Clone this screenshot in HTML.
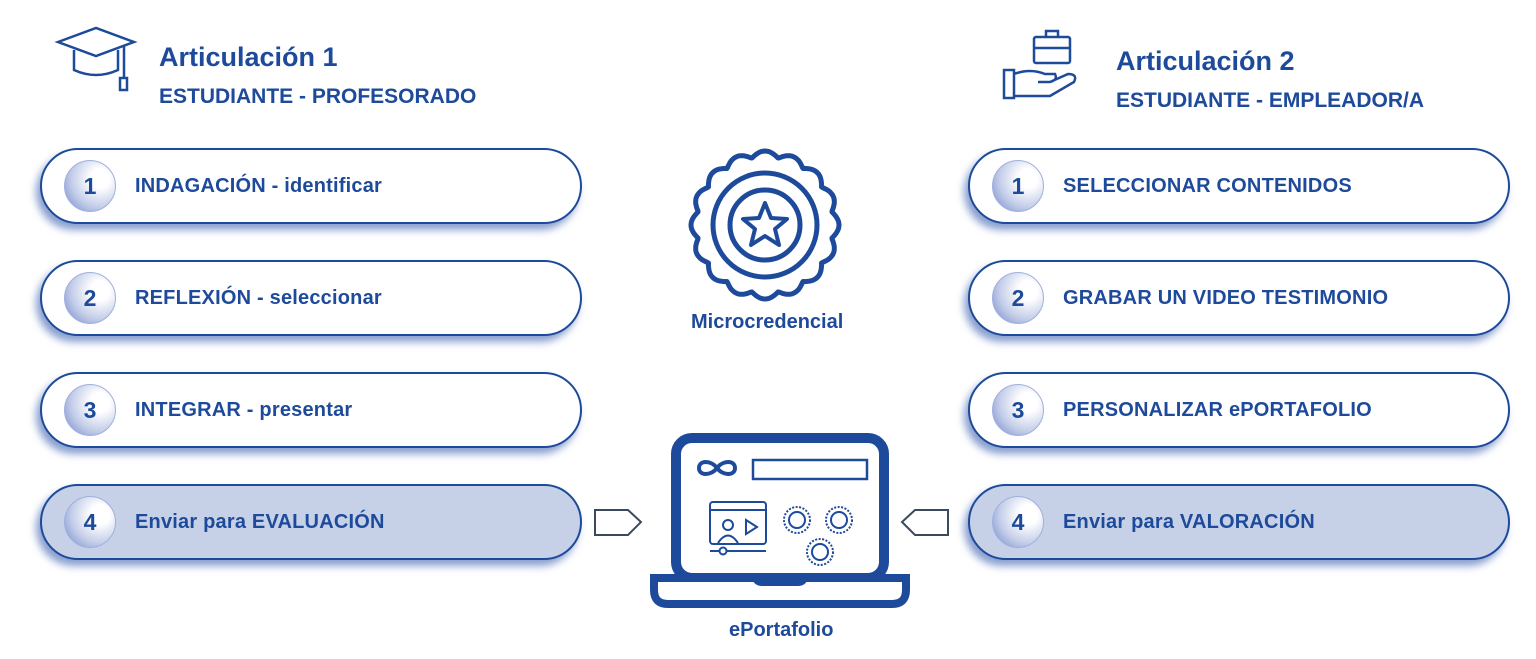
<!DOCTYPE html>
<html><head><meta charset="utf-8"><style>
body{margin:0;width:1536px;height:659px;background:#fff;position:relative;overflow:hidden;font-family:"Liberation Sans",sans-serif;color:#1d4a9a;font-weight:bold}
.pill{position:absolute;width:538px;height:72px;border:2px solid #1d4a9a;border-radius:38px;background:#fff;box-shadow:-4px 6px 8px rgba(40,80,170,.55)}
.pill.f{background:#c6d1e7}
.num{position:absolute;left:22px;top:10px;width:50px;height:50px;border-radius:50%;background:radial-gradient(circle at 70% 35%,#fff 20%,#c3cde9 60%,#6f86c9 100%);border:1px solid #9fb0dd;text-align:center;line-height:50px;font-size:23px;color:#1d4a9a}
.lab{position:absolute;left:93px;top:25px;font-size:20px;letter-spacing:0.2px}
.t{position:absolute;white-space:nowrap}
</style></head><body>
<svg style="position:absolute;left:0;top:0" width="1536" height="659">
<g fill="none" stroke="#1d4a9a" stroke-width="2.5">
<path d="M58 42 L96 28 L134 42 L96 56 Z"/><path d="M74 50 V70 Q96 80 118 70 V50"/><path d="M124 45 V78"/><rect x="120" y="78" width="7" height="12"/>
<rect x="1034" y="37" width="36" height="26" rx="2"/><path d="M1046 37 V31 H1058 V37"/><path d="M1034 48 H1070"/>
<rect x="1004" y="70" width="10" height="28"/><path d="M1014 74 Q1030 68 1045 74 H1055 Q1058 80 1050 82 H1038 M1050 82 L1068 74 Q1078 74 1074 82 L1050 96 H1014"/>
<circle cx="765" cy="225" r="52" stroke-width="5"/><circle cx="765" cy="225" r="35" stroke-width="5"/>
<path d="M765 203 L771 218 L787 219 L775 229 L779 245 L765 236 L751 245 L755 229 L743 219 L759 218 Z" stroke-width="4" stroke-linejoin="round"/>
</g>
<path id="scal" fill="none" stroke="#1d4a9a" stroke-width="5" stroke-linejoin="round"/>
<rect x="676" y="438" width="208" height="140" rx="16" fill="none" stroke="#1d4a9a" stroke-width="10"/>
<path d="M654 578 H906 V590 Q906 604 892 604 H668 Q654 604 654 590 Z" fill="#fff" stroke="#1d4a9a" stroke-width="8"/>
<path d="M752 578 H808 Q806 586 798 586 H762 Q754 586 752 578Z" fill="#1d4a9a"/>
<path d="M717 468 C711 460 699 460 699 468 C699 476 711 476 717 468 C723 460 735 460 735 468 C735 476 723 476 717 468 Z" fill="none" stroke="#1d4a9a" stroke-width="4"/>
<rect x="753" y="460" width="114" height="19" fill="none" stroke="#1d4a9a" stroke-width="2.5"/>
<g fill="none" stroke="#1d4a9a" stroke-width="2">
<rect x="710" y="502" width="56" height="42" rx="3"/><path d="M710 510 H766"/><circle cx="728" cy="525" r="5"/><path d="M718 543 Q728 528 738 543"/><path d="M746 520 L757 527 L746 534 Z"/>
<path d="M710 551 H766"/><circle cx="723" cy="551" r="3.5" fill="#fff"/>
<circle cx="797" cy="520" r="13" stroke-dasharray="2 1.5"/><circle cx="797" cy="520" r="8"/>
<circle cx="839" cy="520" r="13" stroke-dasharray="2 1.5"/><circle cx="839" cy="520" r="8"/>
<circle cx="820" cy="552" r="13" stroke-dasharray="2 1.5"/><circle cx="820" cy="552" r="8"/>
</g>
<path d="M595 510 H628 L641 522 L628 535 H595 Z" fill="#fff" stroke="#3a4a5e" stroke-width="2"/>
<path d="M948 510 H915 L902 522 L915 535 H948 Z" fill="#fff" stroke="#3a4a5e" stroke-width="2"/>
</svg>
<script>
(function(){var cx=765,cy=225,n=16,R=68,A=6,d="";for(var i=0;i<=360;i++){var a=i*Math.PI/180;var r=R+A*Math.abs(Math.cos(n*a/2));var x=cx+r*Math.cos(a),y=cy+r*Math.sin(a);d+=(i?"L":"M")+x.toFixed(1)+" "+y.toFixed(1);}document.getElementById("scal").setAttribute("d",d+"Z");})();
</script>
<div class="t" style="left:159px;top:42px;font-size:27px">Articulación 1</div>
<div class="t" style="left:159px;top:85px;font-size:21px">ESTUDIANTE - PROFESORADO</div>
<div class="t" style="left:1116px;top:46px;font-size:27px">Articulación 2</div>
<div class="t" style="left:1116px;top:89px;font-size:21px">ESTUDIANTE - EMPLEADOR/A</div>
<div class="t" style="left:691px;top:311px;font-size:20px">Microcredencial</div>
<div class="t" style="left:729px;top:619px;font-size:20px">ePortafolio</div>

<div class="pill" style="left:40px;top:148px"><div class="num">1</div><div class="lab">INDAGACIÓN - identificar</div></div>
<div class="pill" style="left:40px;top:260px"><div class="num">2</div><div class="lab">REFLEXIÓN - seleccionar</div></div>
<div class="pill" style="left:40px;top:372px"><div class="num">3</div><div class="lab">INTEGRAR - presentar</div></div>
<div class="pill f" style="left:40px;top:484px"><div class="num">4</div><div class="lab">Enviar para EVALUACIÓN</div></div>
<div class="pill" style="left:968px;top:148px"><div class="num">1</div><div class="lab">SELECCIONAR CONTENIDOS</div></div>
<div class="pill" style="left:968px;top:260px"><div class="num">2</div><div class="lab">GRABAR UN VIDEO TESTIMONIO</div></div>
<div class="pill" style="left:968px;top:372px"><div class="num">3</div><div class="lab">PERSONALIZAR ePORTAFOLIO</div></div>
<div class="pill f" style="left:968px;top:484px"><div class="num">4</div><div class="lab">Enviar para VALORACIÓN</div></div>
</body></html>
